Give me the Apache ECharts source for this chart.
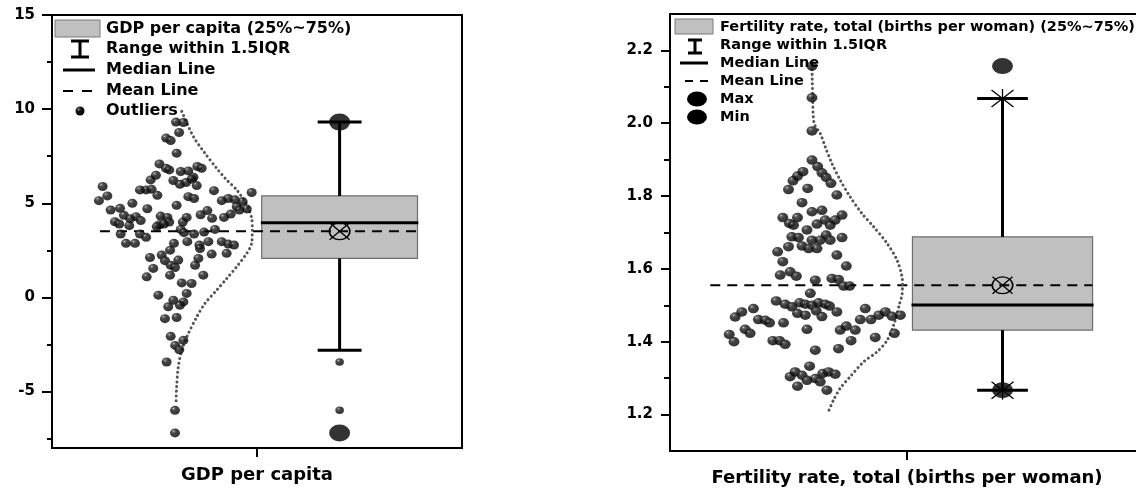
<!DOCTYPE html>
<html>
<head>
<meta charset="utf-8">
<script src="https://cdn.jsdelivr.net/npm/echarts@6/dist/echarts.min.js"></script>
<style>
  html, body { margin: 0; padding: 0; background: #fff; }
  #chart { width: 1136px; height: 491px; }
</style>
</head>
<body>
<div id="chart"></div>
<script>
// ---------- GDP per capita ----------
const gdpName = 'GDP per capita';
const gdpValues = [
  9.31, 9.29, 8.76, 8.46, 8.33, 7.66, 7.09, 6.86, 6.77, 6.69, 6.72, 6.95, 6.86, 6.38, 6.24, 6.49,
  6.21, 6.01, 6.10, 6.28, 5.94, 5.71, 5.74, 5.42, 5.89, 5.39, 5.14, 5.71, 5.67, 5.35, 5.25, 4.89,
  5.00, 5.14, 5.25, 5.18, 5.09, 4.82, 4.70, 5.57, 4.64, 4.73, 4.36, 4.18, 4.29, 4.71, 4.02, 3.90,
  3.81, 4.08, 4.32, 4.25, 4.00, 3.86, 4.25, 4.00, 4.39, 4.61, 4.20, 4.25, 4.43, 4.64, 3.37, 3.37,
  3.19, 3.76, 3.90, 3.61, 3.44, 3.37, 3.47, 3.61, 2.87, 2.87, 2.87, 2.96, 2.78, 2.96, 2.96, 2.83,
  2.78, 2.12, 2.25, 1.95, 1.71, 1.98, 1.59, 2.07, 1.71, 2.30, 2.34, 2.51, 2.60, 1.54, 1.09, 1.18,
  1.18, 0.77, 0.74, 0.12, 0.21, -0.15, -0.24, -0.50, -0.42, -1.13, -1.07, -2.07, -2.28, -2.55, -2.78,
  -3.43, -6.00, -7.20
];
// horizontal spread of the swarm, left of the category centre
const gdpSpread = [
  -39.5, -35.9, -38.0, -44.3, -42.1, -39.2, -47.6, -44.4, -42.8, -37.2, -33.5, -29.1, -27.0, -31.0, -51.9, -49.3,
  -40.8, -37.6, -34.6, -31.9, -29.4, -54.1, -51.4, -48.6, -75.3, -73.0, -77.1, -57.1, -21.0, -33.5, -30.7, -39.2,
  -60.8, -17.2, -14.0, -10.7, -7.0, -9.9, -5.0, -2.6, -71.4, -66.8, -64.9, -61.9, -59.0, -53.5, -69.3, -67.2,
  -62.3, -56.7, -47.0, -43.7, -42.8, -47.6, -34.3, -36.2, -27.5, -24.2, -21.9, -16.1, -12.8, -8.6, -66.5, -57.1,
  -54.1, -48.9, -45.4, -37.2, -35.6, -30.7, -25.8, -20.5, -63.9, -59.5, -40.5, -34.0, -28.1, -23.7, -17.2, -14.0,
  -11.2, -52.2, -46.5, -44.9, -42.1, -38.4, -40.0, -28.6, -30.2, -22.1, -14.8, -42.4, -27.8, -50.6, -53.8, -42.4,
  -26.2, -36.7, -31.9, -48.1, -34.3, -40.8, -35.9, -43.3, -37.6, -44.9, -39.2, -42.1, -35.9, -39.9, -37.9,
  -44.1, -40.0, -40.0
];
// lower whisker, Q1, median, Q3, upper whisker
const gdpStats = [-2.81, 2.07, 3.97, 5.39, 9.31];
const gdpMean = 3.51;
const gdpMin = -7.20;
const gdpMax = 9.31;
const gdpOutliers = [-3.43, -6.00];
// distribution curve: [value, offset]
const gdpCurve = [
  [9.88, -36.7], [8.55, -31.1], [7.66, -25.4], [6.86, -19.7], [6.24, -14.8], [5.71, -9.9], [4.91, -5.0],
  [4.20, -2.6], [3.58, -2.3], [2.87, -2.6], [2.34, -5.0], [1.63, -9.9], [1.00, -14.8], [0.38, -19.7],
  [-0.32, -25.4], [-1.04, -29.4], [-1.92, -33.5], [-2.81, -36.7], [-3.70, -38.4], [-4.77, -39.2], [-5.65, -39.5]
];
const gdpTicks = [-5, 0, 5, 10, 15];
const gdpMinorTicks = [-7.5, -2.5, 2.5, 7.5, 12.5];

// ---------- Fertility rate ----------
const fertName = 'Fertility rate, total (births per woman)';
const fertValues = [
  2.157, 2.07, 1.979, 1.899, 1.881, 1.864, 1.851, 1.835, 1.867, 1.855, 1.842, 1.818, 1.821, 1.803, 1.782, 1.757,
  1.761, 1.741, 1.741, 1.725, 1.72, 1.748, 1.734, 1.734, 1.723, 1.72, 1.707, 1.693, 1.688, 1.686, 1.686, 1.679,
  1.679, 1.679, 1.663, 1.656, 1.656, 1.661, 1.647, 1.638, 1.62, 1.608, 1.583, 1.592, 1.58, 1.569, 1.574, 1.571,
  1.553, 1.553, 1.533, 1.512, 1.503, 1.496, 1.507, 1.503, 1.5, 1.507, 1.503, 1.498, 1.478, 1.473, 1.485, 1.469,
  1.482, 1.491, 1.482, 1.461, 1.459, 1.452, 1.452, 1.434, 1.423, 1.434, 1.432, 1.443, 1.432, 1.403, 1.403, 1.393,
  1.377, 1.381, 1.403, 1.461, 1.491, 1.461, 1.473, 1.482, 1.47, 1.473, 1.412, 1.423, 1.333, 1.304, 1.317, 1.308,
  1.278, 1.294, 1.299, 1.29, 1.313, 1.317, 1.311, 1.267, 1.468, 1.42, 1.40
];
const fertSpread = [
  -40.1, -40.1, -40.1, -40.1, -37.7, -35.9, -34.1, -32.1, -43.9, -46.2, -48.1, -50.0, -41.9, -29.6, -44.3, -40.1,
  -35.9, -52.4, -46.2, -49.6, -47.9, -27.4, -34.5, -30.3, -38.0, -32.4, -42.2, -34.1, -48.6, -45.8, -27.4, -40.1,
  -36.6, -32.4, -44.3, -41.5, -38.0, -50.0, -54.6, -29.6, -52.4, -25.6, -53.5, -49.3, -46.7, -38.7, -31.7, -28.9,
  -26.7, -24.2, -40.8, -55.2, -51.4, -48.6, -45.3, -42.9, -40.1, -37.3, -34.5, -32.7, -46.2, -42.9, -38.3, -35.9,
  -29.6, -64.8, -69.7, -62.7, -59.8, -58.0, -52.1, -68.3, -66.2, -42.2, -28.2, -25.6, -21.8, -56.6, -53.8, -51.4,
  -38.7, -28.9, -23.6, -19.7, -17.6, -15.2, -11.9, -9.1, -6.3, -2.8, -13.4, -5.3, -41.1, -49.3, -47.2, -44.3,
  -46.2, -42.2, -38.7, -36.6, -35.5, -33.1, -30.3, -33.8, -72.5, -75.0, -73.0
];
const fertStats = [1.267, 1.432, 1.501, 1.688, 2.068];
const fertMean = 1.555;
const fertMin = 1.267;
const fertMax = 2.157;
const fertCurve = [
  [2.16, -40.1], [2.07, -39.8], [2.00, -39.2], [1.972, -36.6], [1.935, -34.5], [1.89, -31.7], [1.844, -28.2],
  [1.798, -24.0], [1.752, -19.0], [1.716, -14.1], [1.67, -8.4], [1.624, -4.2], [1.578, -2.1], [1.555, -1.9],
  [1.528, -2.1], [1.505, -3.1], [1.45, -5.4], [1.404, -8.4], [1.372, -12.7], [1.345, -18.3], [1.304, -24.0],
  [1.272, -28.2], [1.24, -31.0], [1.203, -33.5]
];
const fertTicks = [1.2, 1.4, 1.6, 1.8, 2.0, 2.2];
const fertMinorTicks = [1.3, 1.5, 1.7, 1.9, 2.1];

// ---------- drawing ----------
const FONT = '"DejaVu Sans", "Liberation Sans", Arial, sans-serif';
const BOX_LEFT = 2.3, BOX_RIGHT = 78.3, BOX_CENTER = 40.3, CAP = 10.7;

// shaded ball used for every data point
const sphere = {
  type: 'radial', x: 0.35, y: 0.3, r: 0.78,
  colorStops: [
    { offset: 0, color: '#d2d2d2' },
    { offset: 0.1, color: '#5a5a5a' },
    { offset: 0.35, color: '#141414' },
    { offset: 1, color: '#000' }
  ]
};

const pairs = (xs, vs) => vs.map((v, i) => [xs[i], v]);

function boxSeries(xi, yi, stats, mean, meanStart, withAsterisks) {
  return {
    type: 'custom', xAxisIndex: xi, yAxisIndex: yi, z: 2, silent: true,
    data: [[BOX_CENTER, mean]],
    renderItem(params, api) {
      const [lo, q1, med, q3, hi] = stats;
      const P = (x, v) => api.coord([x, v]);
      const seg = (p1, p2, w, dash) => ({
        type: 'line',
        shape: { x1: p1[0], y1: p1[1], x2: p2[0], y2: p2[1] },
        style: { stroke: '#000', lineWidth: w, lineDash: dash || null }
      });
      const tl = P(BOX_LEFT, q3), br = P(BOX_RIGHT, q1);
      const mc = P(BOX_CENTER, mean);
      const kids = [
        { type: 'rect', shape: { x: tl[0], y: tl[1], width: br[0] - tl[0], height: br[1] - tl[1] },
          style: { fill: '#c0c0c0', stroke: '#6e6e6e', lineWidth: 1.2 } },
        seg(P(meanStart, mean), P(BOX_RIGHT, mean), 2, [10, 7]),
        seg(P(BOX_LEFT - 0.4, med), P(BOX_RIGHT + 0.4, med), 3),
        seg(P(BOX_CENTER, q3), P(BOX_CENTER, hi), 3),
        seg(P(BOX_CENTER, q1), P(BOX_CENTER, lo), 3),
        seg(P(BOX_CENTER - CAP, hi), P(BOX_CENTER + CAP, hi), 3),
        seg(P(BOX_CENTER - CAP, lo), P(BOX_CENTER + CAP, lo), 3),
        { type: 'circle', x: mc[0], y: mc[1], scaleX: 1.22, shape: { cx: 0, cy: 0, r: 8.4 },
          style: { fill: 'none', stroke: '#000', lineWidth: 1.3 } },
        seg([mc[0] - 10, mc[1] - 8.5], [mc[0] + 10, mc[1] + 8.5], 1.3),
        seg([mc[0] - 10, mc[1] + 8.5], [mc[0] + 10, mc[1] - 8.5], 1.3)
      ];
      if (withAsterisks) {
        [hi, lo].forEach(v => {
          const c = P(BOX_CENTER, v);
          kids.push(seg([c[0], c[1] - 9.5], [c[0], c[1] + 9.5], 1.3));
          kids.push(seg([c[0] - 11, c[1] - 8.5], [c[0] + 11, c[1] + 8.5], 1.3));
          kids.push(seg([c[0] - 11, c[1] + 8.5], [c[0] + 11, c[1] - 8.5], 1.3));
        });
      }
      return { type: 'group', children: kids };
    }
  };
}

function curveSeries(xi, yi, curve) {
  return {
    type: 'line', xAxisIndex: xi, yAxisIndex: yi, z: 3, silent: true,
    data: curve.map(([v, off]) => [off, v]),
    showSymbol: false, smooth: 0.3,
    lineStyle: { color: '#555', width: 3, type: [0.1, 4.6], cap: 'round' }
  };
}

function swarmSeries(xi, yi, spread, values, size) {
  return {
    type: 'scatter', xAxisIndex: xi, yAxisIndex: yi, z: 4, silent: true,
    data: pairs(spread, values), symbol: 'circle', symbolSize: size,
    itemStyle: { color: sphere }
  };
}

function dotSeries(xi, yi, values, size, color) {
  return {
    type: 'scatter', xAxisIndex: xi, yAxisIndex: yi, z: 5, silent: true,
    data: values.map(v => [BOX_CENTER, v]), symbol: 'circle', symbolSize: size,
    itemStyle: { color: color }
  };
}

function xAxis(grid, name) {
  return {
    type: 'value', gridIndex: grid, min: -100, max: 100,
    name: name, nameLocation: 'middle', nameGap: 18,
    nameTextStyle: { fontFamily: FONT, fontWeight: 'bold', fontSize: 18, color: '#000' },
    axisLine: { show: true, onZero: false, lineStyle: { color: '#000', width: 2 } },
    axisTick: { show: true, customValues: [0], length: 9, lineStyle: { color: '#000', width: 2 } },
    axisLabel: { show: false }, splitLine: { show: false }
  };
}

function yAxis(grid, min, max, ticks, tickLen, fmt) {
  return {
    type: 'value', gridIndex: grid, min: min, max: max, position: 'left',
    axisLine: { show: true, onZero: false, lineStyle: { color: '#000', width: 2 } },
    axisTick: { show: true, customValues: ticks, length: tickLen, lineStyle: { color: '#000', width: 2 } },
    axisLabel: { show: true, customValues: ticks, margin: 17, formatter: fmt,
      fontFamily: FONT, fontWeight: 'bold', fontSize: 15, color: '#000' },
    splitLine: { show: false }
  };
}

function minorAxis(grid, min, max, ticks, tickLen) {
  return {
    type: 'value', gridIndex: grid, min: min, max: max, position: 'left', offset: 0,
    axisLine: { show: false, onZero: false },
    axisTick: { show: true, customValues: ticks, length: tickLen, lineStyle: { color: '#000', width: 2 } },
    axisLabel: { show: false }, splitLine: { show: false }
  };
}

// legend rows drawn as graphic elements
function legend(x0, rows, fontSize, icon) {
  const els = [];
  rows.forEach(r => {
    els.push({ type: 'text', x: x0, y: r.y,
      style: { text: r.text, font: 'bold ' + fontSize + 'px ' + FONT, fill: '#000', verticalAlign: 'middle' } });
  });
  return els.concat(icon);
}

const line = (x1, y1, x2, y2, w, dash) => ({
  type: 'line', shape: { x1, y1, x2, y2 }, style: { stroke: '#000', lineWidth: w, lineDash: dash || null }
});

const leftLegend = legend(106, [
  { text: gdpName + ' (25%~75%)', y: 29 },
  { text: 'Range within 1.5IQR', y: 49 },
  { text: 'Median Line', y: 70 },
  { text: 'Mean Line', y: 91 },
  { text: 'Outliers', y: 111 }
], 16, [
  { type: 'rect', shape: { x: 55, y: 20, width: 45, height: 17 }, style: { fill: '#c0c0c0', stroke: '#7a7a7a', lineWidth: 1 } },
  line(80, 41, 80, 57, 3), line(71, 41, 89, 41, 3), line(71, 57, 89, 57, 3),
  line(63, 70, 95, 70, 3),
  line(63, 91, 97, 91, 2, [10, 9]),
  { type: 'circle', shape: { cx: 80, cy: 111, r: 4.5 }, style: { fill: sphere } }
]);

const rightLegend = legend(720, [
  { text: fertName + ' (25%~75%)', y: 27 },
  { text: 'Range within 1.5IQR', y: 45 },
  { text: 'Median Line', y: 63 },
  { text: 'Mean Line', y: 81 },
  { text: 'Max', y: 99 },
  { text: 'Min', y: 117 }
], 14.5, [
  { type: 'rect', shape: { x: 675, y: 19, width: 38, height: 15 }, style: { fill: '#c0c0c0', stroke: '#7a7a7a', lineWidth: 1 } },
  line(695, 40, 695, 53, 3), line(688, 40, 702, 40, 3), line(688, 53, 702, 53, 3),
  line(680, 63, 708, 63, 3),
  line(685, 81, 708, 81, 2, [8, 7]),
  { type: 'circle', x: 697, y: 99, scaleX: 1.33, shape: { cx: 0, cy: 0, r: 7.5 }, style: { fill: '#000' } },
  { type: 'circle', x: 697, y: 117, scaleX: 1.33, shape: { cx: 0, cy: 0, r: 7.5 }, style: { fill: '#000' } }
]);

const chart = echarts.init(document.getElementById('chart'), null, { renderer: 'canvas' });
chart.setOption({
  animation: false,
  backgroundColor: '#fff',
  textStyle: { fontFamily: FONT },
  grid: [
    { left: 52, top: 15, width: 410, height: 433, outerBoundsMode: 'none', containLabel: false,
      show: true, borderColor: '#000', borderWidth: 2, backgroundColor: 'transparent' },
    { left: 670, top: 14, width: 474, height: 437, outerBoundsMode: 'none', containLabel: false,
      show: true, borderColor: '#000', borderWidth: 2, backgroundColor: 'transparent' }
  ],
  xAxis: [xAxis(0, gdpName), xAxis(1, fertName)],
  yAxis: [
    yAxis(0, -8, 15, gdpTicks, 10, v => String(v)),
    minorAxis(0, -8, 15, gdpMinorTicks, 5),
    yAxis(1, 1.1, 2.3, fertTicks, 9, v => v.toFixed(1)),
    minorAxis(1, 1.1, 2.3, fertMinorTicks, 6)
  ],
  graphic: { elements: leftLegend.concat(rightLegend).map(e => Object.assign({ z: 10 }, e)) },
  series: [
    boxSeries(0, 0, gdpStats, gdpMean, -76.6, false),
    curveSeries(0, 0, gdpCurve),
    swarmSeries(0, 0, gdpSpread, gdpValues, [10, 9]),
    swarmSeries(0, 0, gdpOutliers.map(() => BOX_CENTER), gdpOutliers, [8.5, 7.5]),
    dotSeries(0, 0, [gdpMax, gdpMin], [21, 17], '#000'),

    boxSeries(1, 2, fertStats, fertMean, -83, true),
    curveSeries(1, 2, fertCurve),
    swarmSeries(1, 2, fertSpread, fertValues, [11, 9.5]),
    dotSeries(1, 2, [fertMax, fertMin], [21, 16], '#000')
  ]
});
</script>
</body>
</html>
